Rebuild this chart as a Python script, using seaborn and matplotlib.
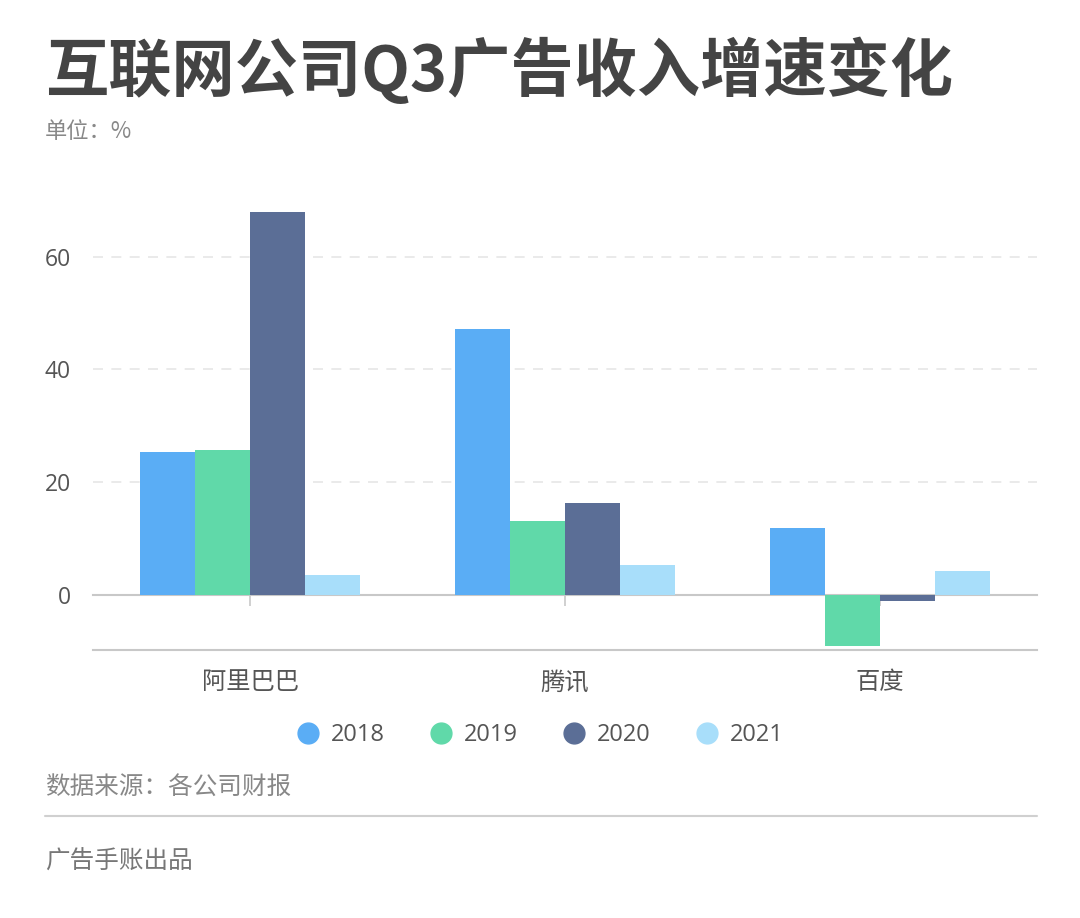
import pandas as pd
import numpy as np
import matplotlib.pyplot as plt
from matplotlib.lines import Line2D
import seaborn as sns

# data
companies = ["阿里巴巴", "腾讯", "百度"]
years = ["2018", "2019", "2020", "2021"]
growth_2018 = [25.4, 47.2, 11.9]
growth_2019 = [25.6, 13.1, -9.1]
growth_2020 = [68.0, 16.3, -1.1]
growth_2021 = [3.5, 5.3, 4.3]
colors = ["#5AADF5", "#60D9A9", "#5B6E96", "#A8DEFA"]

rows = []
for yr, vals in zip(years, [growth_2018, growth_2019, growth_2020, growth_2021]):
    for c, v in zip(companies, vals):
        rows.append({"公司": c, "年份": yr, "增速": v})
df = pd.DataFrame(rows)

sns.set_style("white")
plt.rcParams['font.family'] = ['Noto Sans CJK SC', 'DejaVu Sans']

fig = plt.figure(figsize=(10.8, 9.18), dpi=100)
ax = fig.add_axes([93/1080, 1-650/918, (1037-93)/1080, (650-189)/918])

sns.barplot(data=df, x="公司", y="增速", hue="年份", palette=colors, saturation=1,
            width=0.7, gap=0, linewidth=0, legend=False, ax=ax)

ax.set_xlim(-0.5, 2.5)
ax.set_ylim(-9.8, 72)
ax.set_yticks([0, 20, 40, 60])
ax.set_xlabel("")
ax.set_ylabel("")
for s in ["top", "right", "left"]:
    ax.spines[s].set_visible(False)
ax.spines["bottom"].set_color("#c8c8c8")
ax.spines["bottom"].set_linewidth(1.5)
ax.tick_params(axis="y", length=0, pad=16, labelsize=16.5, labelcolor="#555555")
ax.tick_params(axis="x", length=0, pad=14, labelsize=17.5, labelcolor="#555555")
for lab in ax.get_yticklabels():
    lab.set_family(["Open Sans", "DejaVu Sans"])

# dashed grid
for yv in [20, 40, 60]:
    ax.axhline(yv, color="#e6e6e6", lw=1.2, ls=(0, (6, 5)), zorder=0)

# zero axis line with ticks
sec = ax.secondary_xaxis(0, transform=ax.transData)
sec.set_xticks([0, 1, 2])
sec.set_xticklabels(["", "", ""])
sec.spines["bottom"].set_color("#c8c8c8")
sec.spines["bottom"].set_linewidth(1.5)
sec.tick_params(axis="x", length=8, width=1.2, color="#c8c8c8")

# legend
handles = [Line2D([], [], marker="o", ls="", markersize=15, markerfacecolor=c,
                  markeredgecolor=c) for c in colors]
fig.legend(handles, years, loc="center", bbox_to_anchor=(0.5, 1-735/918), ncol=4,
           frameon=False, prop={"family": ["Open Sans", "DejaVu Sans"], "size": 17},
           labelcolor="#555555", handlelength=1.0, handletextpad=0.45, columnspacing=1.9)

# titles and footer
fig.text(45/1080, 1-37/918, "互联网公司Q3广告收入增速变化", fontsize=45.5, fontweight="bold",
         color="#444444", va="top", ha="left")
fig.text(45/1080, 1-120/918, "单位：%", fontsize=16, color="#888888", va="top", ha="left")
fig.text(45/1080, 1-774/918, "数据来源：各公司财报", fontsize=17.7, color="#888888", va="top", ha="left")
fig.add_artist(Line2D([45/1080, 1037/1080], [1-816/918, 1-816/918], color="#d0d0d0", lw=1.5))
fig.text(45/1080, 1-849/918, "广告手账出品", fontsize=17.7, color="#777777", va="top", ha="left")

fig.savefig("out.png", dpi=100, facecolor="white")
